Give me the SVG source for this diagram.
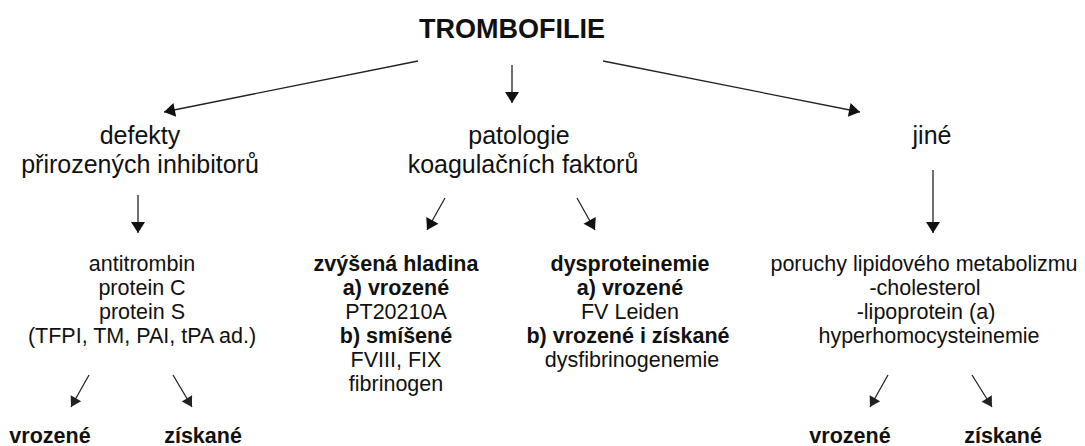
<svg xmlns="http://www.w3.org/2000/svg" width="1085" height="446" viewBox="0 0 1085 446">
<style>
text{font-family:"Liberation Sans",Arial,sans-serif;fill:#111;text-anchor:middle}
.t{font-size:27px;font-weight:bold}
.h{font-size:25px}
.s{font-size:21.5px}
.b{font-weight:bold}
.c line{stroke:#222;stroke-width:1.3}
.big{marker-end:url(#ah)}
.sm{marker-end:url(#as)}
</style>
<defs>
<marker id="ah" markerUnits="userSpaceOnUse" markerWidth="14" markerHeight="16" viewBox="0 -8 12 16" refX="11" refY="0" orient="auto"><path d="M0,-7 L11,0 L0,7 z" fill="#111"/></marker>
<marker id="as" markerUnits="userSpaceOnUse" markerWidth="14" markerHeight="14" viewBox="0 -7 11 14" refX="10" refY="0" orient="auto"><path d="M0,-6 L10,0 L0,6 z" fill="#222"/></marker>
</defs>
<rect width="1085" height="446" fill="#fff"/>
<g id="n-root"><text class="t" x="512" y="38">TROMBOFILIE</text></g>
<g id="n-defekty"><text class="h" x="140" y="144">defekty</text><text class="h" x="140" y="173">přirozených inhibitorů</text></g>
<g id="n-patologie"><text class="h" x="519" y="144">patologie</text><text class="h" x="523" y="173">koagulačních faktorů</text></g>
<g id="n-jine"><text class="h" x="932" y="144">jiné</text></g>
<g id="n-inhibitory"><text class="s" x="142" y="271">antitrombin</text><text class="s" x="142" y="295">protein C</text><text class="s" x="142" y="319">protein S</text><text class="s" x="142" y="343">(TFPI, TM, PAI, tPA ad.)</text></g>
<g id="n-hladina"><text class="s b" x="396" y="271">zvýšená hladina</text><text class="s b" x="396" y="295">a) vrozené</text><text class="s" x="396" y="319">PT20210A</text><text class="s b" x="396" y="343">b) smíšené</text><text class="s" x="396" y="367">FVIII, FIX</text><text class="s" x="396" y="391">fibrinogen</text></g>
<g id="n-dysprot"><text class="s b" x="630" y="271">dysproteinemie</text><text class="s b" x="630" y="295">a) vrozené</text><text class="s" x="630" y="319">FV Leiden</text><text class="s b" x="628" y="343">b) vrozené i získané</text><text class="s" x="632" y="367">dysfibrinogenemie</text></g>
<g id="n-lipid"><text class="s" x="924" y="271">poruchy lipidového metabolizmu</text><text class="s" x="925" y="295">-cholesterol</text><text class="s" x="926" y="319">-lipoprotein (a)</text><text class="s" x="929" y="343">hyperhomocysteinemie</text></g>
<g id="n-vrozene1"><text class="s b" x="50" y="443">vrozené</text></g>
<g id="n-ziskane1"><text class="s b" x="203" y="443">získané</text></g>
<g id="n-vrozene2"><text class="s b" x="850" y="443">vrozené</text></g>
<g id="n-ziskane2"><text class="s b" x="1003" y="443">získané</text></g>
<g id="connectors" class="c">
<line class="big" x1="418" y1="61" x2="164" y2="112"/>
<line class="big" x1="512" y1="65" x2="512" y2="103"/>
<line class="big" x1="603" y1="61" x2="860" y2="112"/>
<line class="big" x1="138" y1="195" x2="138" y2="233"/>
<line class="big" x1="445" y1="198" x2="427" y2="230"/>
<line class="big" x1="577" y1="198" x2="595" y2="230"/>
<line class="big" x1="933" y1="170" x2="933" y2="233"/>
<line class="sm" x1="89" y1="375" x2="71" y2="407"/>
<line class="sm" x1="173" y1="375" x2="192" y2="407"/>
<line class="sm" x1="888" y1="375" x2="870" y2="407"/>
<line class="sm" x1="972" y1="375" x2="992" y2="407"/>
</g>
</svg>
